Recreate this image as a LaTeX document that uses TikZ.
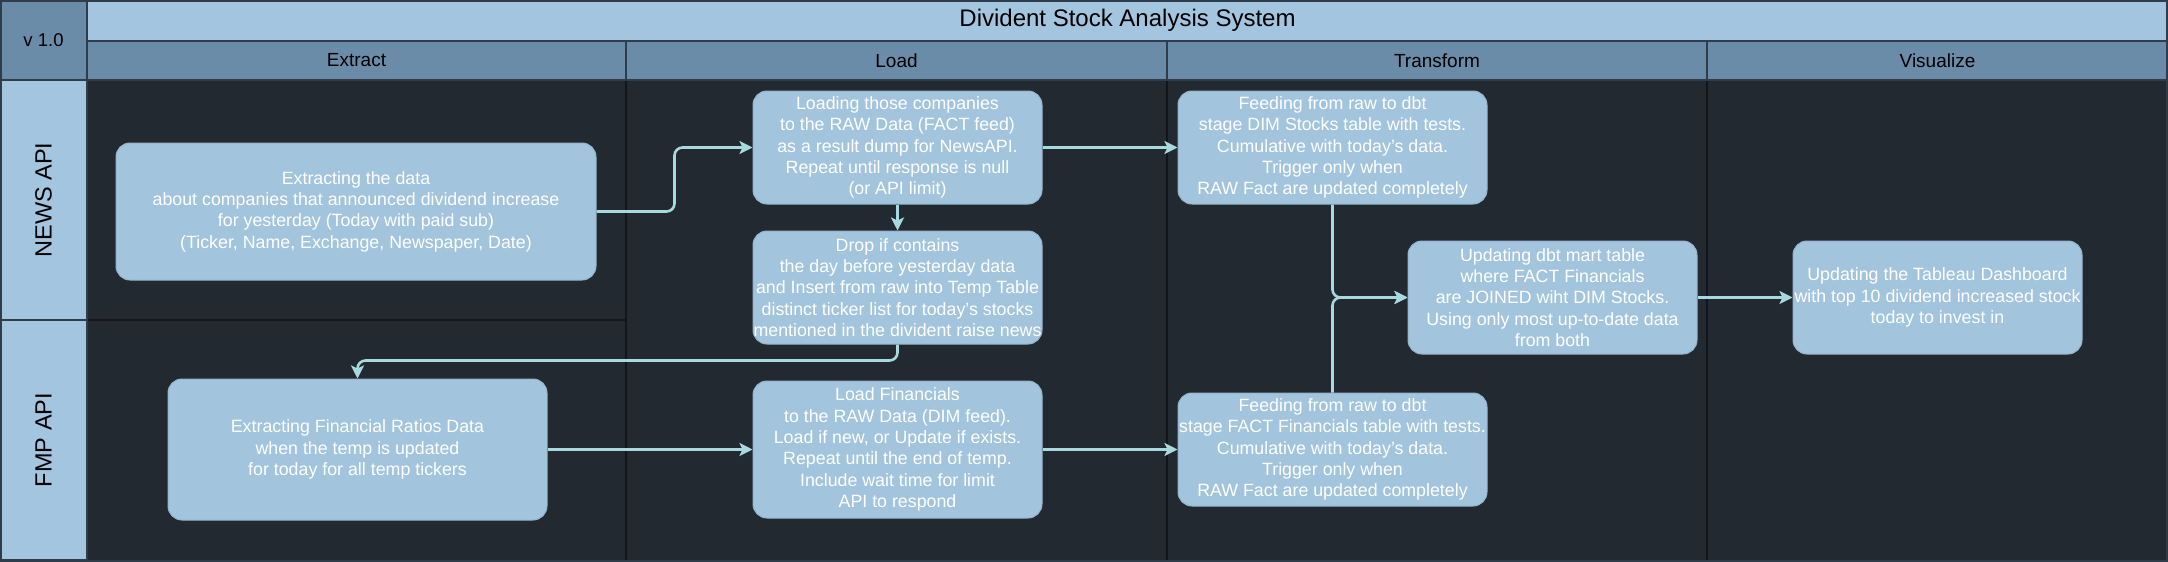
\documentclass[tikz,border=0pt]{standalone}
\usepackage{fontspec}
\setmainfont{Liberation Sans}
\usetikzlibrary{arrows.meta}
\definecolor{bgdark}{HTML}{232931}
\definecolor{hdrblue}{HTML}{6A8CA8}
\definecolor{liteblue}{HTML}{A4C5DF}
\definecolor{edgecol}{HTML}{2F3C4A}
\definecolor{sepcol}{HTML}{12161A}
\definecolor{conncol}{HTML}{A8D9DF}
\definecolor{boxfill}{HTML}{A3C4DD}
\definecolor{boxline}{HTML}{93B4CE}
\tikzset{
  cell/.style={draw=edgecol, line width=2pt, inner sep=0pt, text=black},
  procbox/.style={draw=boxline, line width=1pt, fill=boxfill, rounded corners=14pt, inner sep=0pt},
  boxtext/.style={inner sep=0pt, align=center, text=white, font=\fontsize{17.8}{21.3}\selectfont},
  conn/.style={draw=conncol, line width=2.6pt, rounded corners=8pt, -{Stealth[length=13pt,width=13pt,inset=3pt]}},
  colsep/.style={draw=sepcol, line width=2pt}
}
\begin{document}
\begin{tikzpicture}[x=1pt,y=-1pt]
\useasboundingbox (0,0) rectangle (2168,562);
% dark background
\fill[bgdark] (0,0) rectangle (2168,562);
% top-left version cell
\node[cell, fill=hdrblue, minimum width=87pt, minimum height=80pt, font=\fontsize{18.5}{22}\selectfont] (ver) at (43.5,40) {v 1.0};
% title bar
\node[cell, fill=liteblue, minimum width=2081pt, minimum height=41pt, font=\fontsize{24}{28}\selectfont] (title) at (1127.5,20.5) {Divident Stock Analysis System};
% column headers
\node[cell, fill=hdrblue, minimum width=539pt, minimum height=39pt, font=\fontsize{19}{23}\selectfont] (hE) at (356.5,60.5) {Extract};
\node[cell, fill=hdrblue, minimum width=541pt, minimum height=39pt, font=\fontsize{19}{23}\selectfont] (hL) at (896.5,60.5) {Load};
\node[cell, fill=hdrblue, minimum width=540pt, minimum height=39pt, font=\fontsize{19}{23}\selectfont] (hT) at (1437,60.5) {Transform};
\node[cell, fill=hdrblue, minimum width=461pt, minimum height=39pt, font=\fontsize{19}{23}\selectfont] (hV) at (1937.5,60.5) {Visualize};
% lane labels
\node[cell, fill=liteblue, minimum width=87pt, minimum height=240pt] (laneN) at (43.5,200) {};
\node[rotate=90, inner sep=0pt, font=\fontsize{23.5}{28}\selectfont] at (laneN) {NEWS API};
\node[cell, fill=liteblue, minimum width=87pt, minimum height=240pt] (laneF) at (43.5,440) {};
\node[rotate=90, inner sep=0pt, font=\fontsize{23.5}{28}\selectfont] at (laneF) {FMP API};
% separators in the dark area
\draw[colsep] (626,81) -- (626,561);
\draw[colsep] (1167,81) -- (1167,561);
\draw[colsep] (1707,81) -- (1707,561);
\draw[colsep] (88,320) -- (626,320);
\draw[colsep] (88,561) -- (2167,561);
\draw[edgecol, line width=2pt] (1,1) rectangle (2167,561);
% process boxes
\node[procbox, minimum width=480pt, minimum height=137pt] (n1) at (356,211.5) {};
\node[boxtext] at (n1) {Extracting the data\\about companies that announced dividend increase\\for yesterday (Today with paid sub)\\(Ticker, Name, Exchange, Newspaper, Date)};
\node[procbox, minimum width=289pt, minimum height=113pt] (l1) at (897.5,147.5) {};
\node[boxtext] at (l1) {Loading those companies\\to the RAW Data (FACT feed)\\as a result dump for NewsAPI.\\Repeat until response is null\\(or API limit)};
\node[procbox, minimum width=289pt, minimum height=113pt] (l2) at (897.5,287.5) {};
\node[boxtext] at (l2) {Drop if contains\\the day before yesterday data\\and Insert from raw into Temp Table\\distinct ticker list for today's stocks\\mentioned in the divident raise news};
\node[procbox, minimum width=309pt, minimum height=113pt] (t1) at (1332.5,147.5) {};
\node[boxtext] at (t1) {Feeding from raw to dbt\\stage DIM Stocks table with tests.\\Cumulative with today's data.\\Trigger only when\\RAW Fact are updated completely};
\node[procbox, minimum width=289pt, minimum height=113pt] (mart) at (1552.5,297.5) {};
\node[boxtext] at (mart) {Updating dbt mart table\\where FACT Financials\\are JOINED wiht DIM Stocks.\\Using only most up-to-date data\\from both};
\node[procbox, minimum width=289pt, minimum height=113pt] (viz) at (1937.5,297.5) {};
\node[boxtext] at (viz) {Updating the Tableau Dashboard\\with top 10 dividend increased stock\\today to invest in};
\node[procbox, minimum width=379pt, minimum height=141pt] (f1) at (357.5,449.5) {};
\node[boxtext] at (f1) {Extracting Financial Ratios Data\\when the temp is updated\\for today for all temp tickers};
\node[procbox, minimum width=289pt, minimum height=137pt] (l3) at (897.5,449.5) {};
\node[boxtext] at (l3) {Load Financials\\to the RAW Data (DIM feed).\\Load if new, or Update if exists.\\Repeat until the end of temp.\\Include wait time for limit\\API to respond};
\node[procbox, minimum width=309pt, minimum height=113pt] (t2) at (1332.5,449.5) {};
\node[boxtext] at (t2) {Feeding from raw to dbt\\stage FACT Financials table with tests.\\Cumulative with today's data.\\Trigger only when\\RAW Fact are updated completely};
% connectors
\draw[conn] (n1.east) -- ++(78,0) |- (l1.west);
\draw[conn] (l1.east) -- (t1.west);
\draw[conn] (l1.south) -- (l2.north);
\draw[conn] (l2.south) -- ++(0,16) -| (f1.north);
\draw[conn] (f1.east) -- (l3.west);
\draw[conn] (l3.east) -- (t2.west);
\draw[conn] (t1.south) |- (mart.west);
\draw[conn] (t2.north) |- (mart.west);
\draw[conn] (mart.east) -- (viz.west);
\end{tikzpicture}
\end{document}
